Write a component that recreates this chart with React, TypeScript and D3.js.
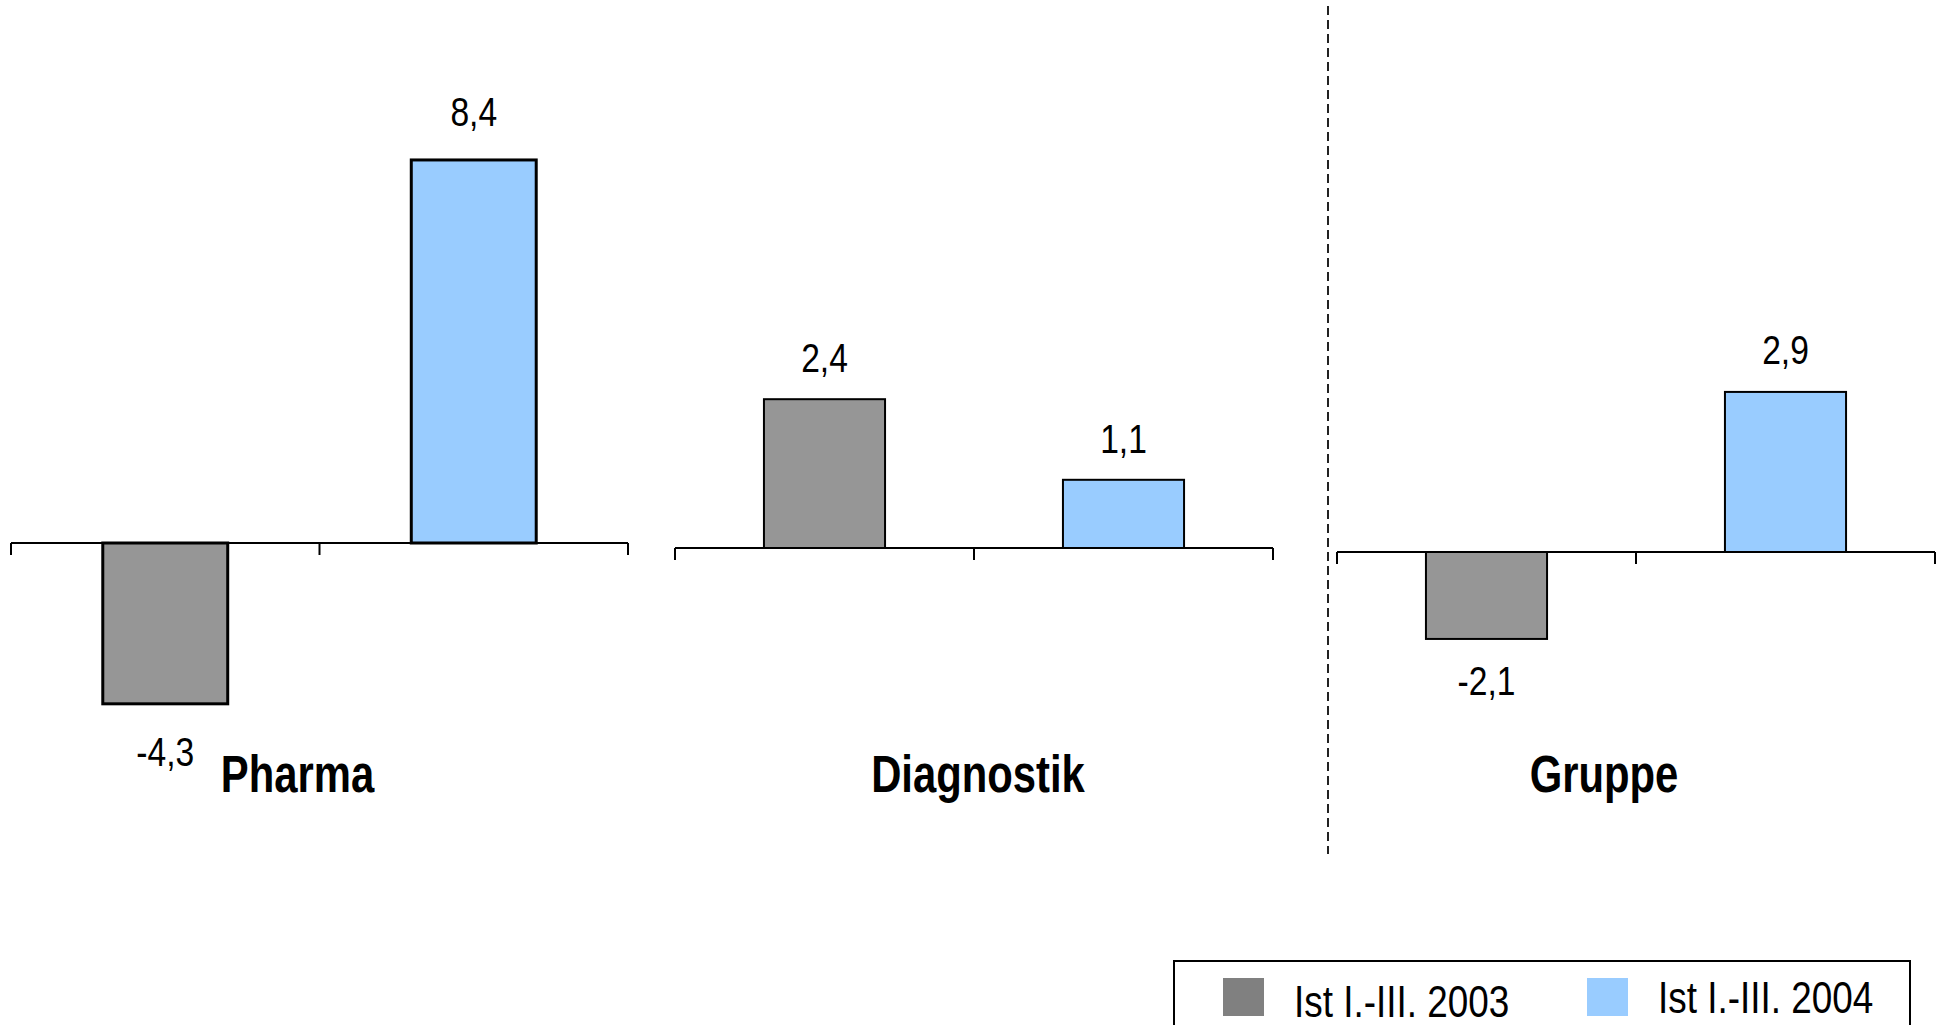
import * as d3 from 'd3';
import { FC, ReactNode } from 'react';

const categories = ['Pharma', 'Diagnostik', 'Gruppe'];
const seriesNames = ['Ist I.-III. 2003', 'Ist I.-III. 2004'];
const values2003 = [-4.3, 2.4, -2.1];
const values2004 = [8.4, 1.1, 2.9];

const barColors = ['#969696', '#99ccff'];
const legendColors = ['#808080', '#99ccff'];

// each panel was its own little chart, with its own value axis
const panels = [
  { x: [11, 628], yDomain: [-6, 0, 10], yRange: [767.4, 543, 87], stroke: 3, gap: 48, titleDx: -22 },
  { x: [675, 1273], yDomain: [-3, 0, 4], yRange: [698, 548, 300], stroke: 2, gap: 41, titleDx: 4 },
  { x: [1337, 1935], yDomain: [-3, 0, 4], yRange: [676.2, 552, 331.2], stroke: 2, gap: 42, titleDx: -32 },
];

const width = 1941;
const height = 1025;
const font = '"Liberation Sans", Arial, sans-serif';
const narrow = 0.82; // the original text is set in a condensed face

const fmt = d3
  .formatLocale({ decimal: ',', thousands: '.', grouping: [3], currency: ['', ' €'], minus: '-' })
  .format('.1f');

type TextProps = {
  x: number;
  y: number;
  size: number;
  anchor?: string;
  baseline?: string;
  bold?: boolean;
  children: ReactNode;
};

const NarrowText: FC<TextProps> = ({ x, y, size, anchor = 'start', baseline, bold, children }) => (
  <text
    transform={`translate(${x},${y}) scale(${narrow},1)`}
    textAnchor={anchor}
    dominantBaseline={baseline}
    fontFamily={font}
    fontWeight={bold ? 'bold' : 'normal'}
    fontSize={size}
  >
    {children}
  </text>
);

const Panel: FC<{ index: number }> = ({ index }) => {
  const p = panels[index];
  const values = [values2003[index], values2004[index]];

  const xScale = d3.scaleBand<string>().domain(seriesNames).range(p.x as [number, number]).padding(0);
  const yScale = d3.scaleLinear().domain(p.yDomain).range(p.yRange);

  const y0 = yScale(0);
  const bw = xScale.bandwidth() * 0.405;
  const ticks = [p.x[0], xScale(seriesNames[1])!, p.x[1]];

  return (
    <g>
      <line x1={p.x[0]} x2={p.x[1]} y1={y0} y2={y0} stroke="#000" strokeWidth={2} />
      {ticks.map((t, i) => (
        <line key={i} x1={t} x2={t} y1={y0} y2={y0 + 12} stroke="#000" strokeWidth={2} />
      ))}
      {seriesNames.map((s, i) => {
        const v = values[i];
        const xb = xScale(s)! + (xScale.bandwidth() - bw) / 2;
        const yv = yScale(v);
        return (
          <g key={s}>
            <rect
              x={xb}
              y={Math.min(yv, y0)}
              width={bw}
              height={Math.abs(yv - y0)}
              fill={barColors[i]}
              stroke="#000"
              strokeWidth={p.stroke}
            />
            <NarrowText
              x={xb + bw / 2}
              y={v >= 0 ? yv - p.gap : yv + p.gap}
              size={41}
              anchor="middle"
              baseline="central"
            >
              {fmt(v)}
            </NarrowText>
          </g>
        );
      })}
      <NarrowText
        x={(p.x[0] + p.x[1]) / 2 + p.titleDx}
        y={775}
        size={51}
        anchor="middle"
        baseline="central"
        bold
      >
        {categories[index]}
      </NarrowText>
    </g>
  );
};

const App: FC = () => {
  const legendX = [1223, 1587];
  return (
    <svg
      width={width}
      height={height}
      style={{ position: 'absolute', left: 0, top: 0, background: '#fff' }}
    >
      <rect x={0} y={0} width={width} height={height} fill="#fff" />
      {categories.map((c, i) => (
        <Panel key={c} index={i} />
      ))}
      <line x1={1328} x2={1328} y1={6} y2={854} stroke="#222" strokeWidth={2} strokeDasharray="9,5" />

      <rect x={1174} y={961} width={736} height={90} fill="#fff" stroke="#000" strokeWidth={2} />
      {seriesNames.map((s, i) => (
        <g key={s}>
          <rect x={legendX[i]} y={978} width={41} height={38} fill={legendColors[i]} />
          <NarrowText x={legendX[i] + 71} y={i === 0 ? 1017 : 1013} size={45}>
            {s}
          </NarrowText>
        </g>
      ))}
    </svg>
  );
};

export default App;
